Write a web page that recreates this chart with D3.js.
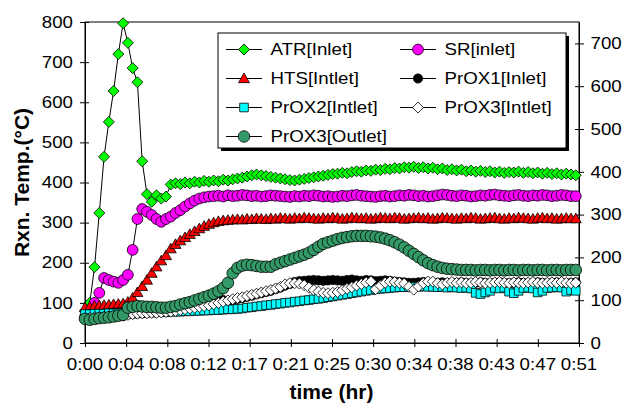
<!DOCTYPE html>
<html><head><meta charset="utf-8">
<script src="https://cdn.jsdelivr.net/npm/d3@7"></script>
<style>body{margin:0;background:#fff}svg{display:block}text{font-family:"Liberation Sans",Arial,sans-serif;fill:#000}</style>
</head><body><svg id="c" width="622" height="404"></svg>
<script>
// sampling times (minutes), one reading every 30 s
const timeMin = d3.range(0, 104).map(i => i * 0.5);

const atrInlet = [
 80,100,189,324,464,551,628,720,797,748,
 685,650,453,371,352,368,360,365,395,398,
 396,400,398,402,400,404,402,405,403,407,
 405,408,410,412,415,418,420,418,416,414,
 412,410,408,406,405,407,409,411,413,415,
 417,419,421,422,424,423,426,428,427,430,
 429,432,431,434,433,436,435,438,437,439,
 436,438,435,437,433,435,431,433,430,432,
 428,430,427,429,426,428,425,427,424,426,
 425,427,424,426,423,425,422,424,421,423,
 420,422,420,418];
const srInlet = [
 65,80,100,125,162,157,153,150,157,170,
 232,309,334,327,319,309,302,309,315,324,
 331,340,348,355,360,363,365,366,367,365,
 368,366,367,369,368,366,367,365,366,368,
 367,366,365,364,366,365,367,366,368,367,
 365,366,364,365,367,366,368,369,367,366,
 365,364,366,367,365,366,368,367,369,368,
 366,367,365,366,368,370,369,367,366,368,
 367,365,366,368,367,369,370,368,367,366,
 368,369,367,366,368,367,369,368,366,367,
 369,368,366,366];
const htsInlet = [
 88,90,92,93,94,95,96,97,98,102,
 112,126,141,157,174,190,205,218,235,246,
 255,263,271,278,285,291,296,300,303,305,
 306,307,308,307,309,308,310,309,308,310,
 309,311,310,309,311,310,312,311,310,309,
 311,310,312,311,309,310,312,311,310,311,
 309,310,312,311,310,312,311,309,310,311,
 312,310,311,309,310,312,311,310,309,311,
 310,312,311,309,310,311,312,310,309,311,
 310,312,311,310,309,311,312,310,311,309,
 310,311,310,310];
const prox1Inlet = [
 62,63,64,65,66,66,67,68,69,71,
 72,73,74,75,76,76,77,78,80,82,
 84,86,88,90,92,95,98,101,104,107,
 104,107,110,112,115,118,121,124,127,130,
 134,138,143,147,152,154,155,156,157,156,
 155,156,157,156,155,157,158,156,155,157,
 156,154,155,156,155,153,152,151,150,150,
 151,152,151,150,150,151,150,149,150,151,
 150,149,150,151,150,149,150,151,150,149,
 150,151,150,149,150,151,150,149,150,151,
 150,149,150,151];
const prox2Inlet = [
 72,72,73,73,73,74,74,74,75,75,
 75,76,76,76,76,77,77,77,78,78,
 78,79,79,80,80,81,81,82,82,83,
 84,84,85,86,88,89,91,92,94,95,
 97,98,100,101,103,104,106,107,109,110,
 112,114,116,118,120,122,124,126,128,130,
 132,134,135,136,137,138,139,139,140,140,
 140,141,140,140,139,140,138,139,138,137,
 138,136,125,122,126,130,137,136,138,128,
 124,130,137,138,136,126,130,137,138,139,
 138,128,132,130];
const prox3Inlet = [
 62,63,64,65,65,66,67,67,68,70,
 72,73,74,74,75,75,76,77,78,80,
 82,84,86,88,90,92,94,97,100,103,
 106,109,112,114,117,120,123,126,129,132,
 136,140,146,149,149,148,144,138,132,128,
 125,124,125,127,131,135,139,143,147,151,
 153,134,143,150,153,152,150,148,140,133,
 141,149,153,153,149,146,150,152,150,151,
 149,150,152,151,149,150,151,152,150,149,
 151,150,149,151,152,150,149,150,151,150,
 152,150,149,150];
const prox3Outlet = [
 60,58,60,62,63,64,66,68,70,88,
 90,92,91,90,90,89,88,88,90,92,
 96,99,102,106,110,114,118,123,129,137,
 150,174,187,193,195,194,192,190,190,190,
 196,200,204,208,212,216,220,225,232,240,
 247,251,255,259,262,264,266,267,267,267,
 266,265,263,260,256,251,245,238,230,222,
 214,206,199,194,190,187,185,184,183,182,
 182,182,181,182,182,181,182,182,181,182,
 182,181,182,182,181,182,182,181,182,182,
 181,182,182,182];

const seriesNames = ["ATR[Inlet]","SR[inlet]","HTS[Intlet]","PrOX1[Inlet]","PrOX2[Intlet]","PrOX3[Intlet]","PrOX3[Outlet]"];
const xTickValues = [0,4.32,8.64,12.96,17.28,21.6,25.92,30.24,34.56,38.88,43.2,47.52,51.84];
const xTickLabels = ["0:00","0:04","0:08","0:12","0:17","0:21","0:25","0:30","0:34","0:38","0:43","0:47","0:51"];
const leftTicks = [0,100,200,300,400,500,600,700,800];
const rightTicks = [0,100,200,300,400,500,600,700];

const series = [
  {name: seriesNames[0], values: atrInlet, shape: "diamond", fill: "#00ff00", r: 5.5},
  {name: seriesNames[1], values: srInlet, shape: "circle", fill: "#ff00ff", r: 5.4},
  {name: seriesNames[2], values: htsInlet, shape: "triangle", fill: "#ff0000", r: 5.5},
  {name: seriesNames[3], values: prox1Inlet, shape: "circle", fill: "#000000", r: 4.6},
  {name: seriesNames[4], values: prox2Inlet, shape: "square", fill: "#00ffff", r: 4.3},
  {name: seriesNames[5], values: prox3Inlet, shape: "diamond", fill: "#ffffff", r: 5.5},
  {name: seriesNames[6], values: prox3Outlet, shape: "circle", fill: "#339966", r: 5.8}
];

const svg = d3.select("#c");
const L = 85, R = 579, T = 22, B = 343;
const x = d3.scaleLinear().domain([0, 51.84]).range([L, R]);
const yL = d3.scaleLinear().domain([0, 800]).range([B, T]);
const yR = d3.scaleLinear().domain([0, 750]).range([B, T]);
const SX = 1.17;

function markerPath(shape, r) {
  if (shape === "diamond") return `M0,${-r}L${r},0L0,${r}L${-r},0Z`;
  if (shape === "triangle") return `M0,${-r}L${r},${r*0.75}L${-r},${r*0.75}Z`;
  if (shape === "square") return `M${-r},${-r}H${r}V${r}H${-r}Z`;
  return d3.symbol().type(d3.symbolCircle).size(Math.PI * r * r)();
}
function stext(g, px, py, str, anchor, size, weight) {
  return g.append("text")
    .attr("transform", `translate(${px},${py}) scale(${SX},1)`)
    .attr("text-anchor", anchor)
    .style("font-size", size + "px")
    .style("font-weight", weight || "normal")
    .text(str);
}

// frame
svg.append("rect").attr("x", L).attr("y", T).attr("width", R - L).attr("height", B - T)
  .attr("fill", "none").attr("stroke", "#000").attr("stroke-width", 1);

// axes
const gx = svg.append("g").attr("transform", `translate(0,${B})`)
  .call(d3.axisBottom(x).tickValues(xTickValues).tickFormat("").tickSizeOuter(0).tickSizeInner(5));
gx.selectAll(".tick line").attr("y1", -4).attr("y2", 4);
const gl = svg.append("g").attr("transform", `translate(${L},0)`)
  .call(d3.axisLeft(yL).tickValues(leftTicks).tickFormat("").tickSizeOuter(0).tickSizeInner(5));
gl.selectAll(".tick line").attr("x1", -5).attr("x2", 4);
const gr = svg.append("g").attr("transform", `translate(${R},0)`)
  .call(d3.axisRight(yR).tickValues(rightTicks).tickFormat("").tickSizeOuter(0).tickSizeInner(5));
gr.selectAll(".tick line").attr("x1", -4).attr("x2", 5);
svg.selectAll(".domain").attr("stroke", "#000");
svg.selectAll(".tick line").attr("stroke", "#000");

const labels = svg.append("g");
leftTicks.forEach(v => stext(labels, 73, yL(v) + 5.7, String(v), "end", 16));
rightTicks.forEach(v => stext(labels, 590.5, yR(v) + 5.7, String(v), "start", 16));
xTickValues.forEach((v, i) => stext(labels, x(v), 370, xTickLabels[i], "middle", 16));

svg.append("text").attr("transform", "translate(28.5,182.5) rotate(-90)")
  .attr("text-anchor", "middle").style("font-size", "21px").style("font-weight", "bold")
  .text("Rxn. Temp.(°C)");
svg.append("text").attr("x", 331.5).attr("y", 399)
  .attr("text-anchor", "middle").style("font-size", "21px").style("font-weight", "bold")
  .text("time (hr)");

// series
const line = d3.line().x((d, i) => x(timeMin[i])).y(d => yL(d));
series.forEach(s => {
  const g = svg.append("g");
  g.append("path").attr("d", line(s.values)).attr("fill", "none").attr("stroke", "#000").attr("stroke-width", 1);
  g.selectAll("path.m").data(s.values).join("path").attr("class", "m")
    .attr("transform", (d, i) => `translate(${x(timeMin[i])},${yL(d)})`)
    .attr("d", markerPath(s.shape, s.r))
    .attr("fill", s.fill).attr("stroke", "#000").attr("stroke-width", 0.8);
});

// legend
const lg = svg.append("g");
lg.append("rect").attr("x", 221).attr("y", 36).attr("width", 348).attr("height", 115).attr("fill", "#000");
lg.append("rect").attr("x", 218).attr("y", 33).attr("width", 348).attr("height", 115)
  .attr("fill", "#fff").attr("stroke", "#000").attr("stroke-width", 1);
series.forEach((s, k) => {
  const col = k % 2, row = Math.floor(k / 2);
  const x0 = 226 + col * 174, yy = 49.5 + row * 29;
  lg.append("line").attr("x1", x0).attr("x2", x0 + 36).attr("y1", yy).attr("y2", yy)
    .attr("stroke", "#000").attr("stroke-width", 1);
  lg.append("path").attr("transform", `translate(${x0 + 18},${yy})`)
    .attr("d", markerPath(s.shape, s.r)).attr("fill", s.fill).attr("stroke", "#000").attr("stroke-width", 0.8);
  stext(lg, x0 + 44.5, yy + 5.7, s.name, "start", 16);
});
</script></body></html>
